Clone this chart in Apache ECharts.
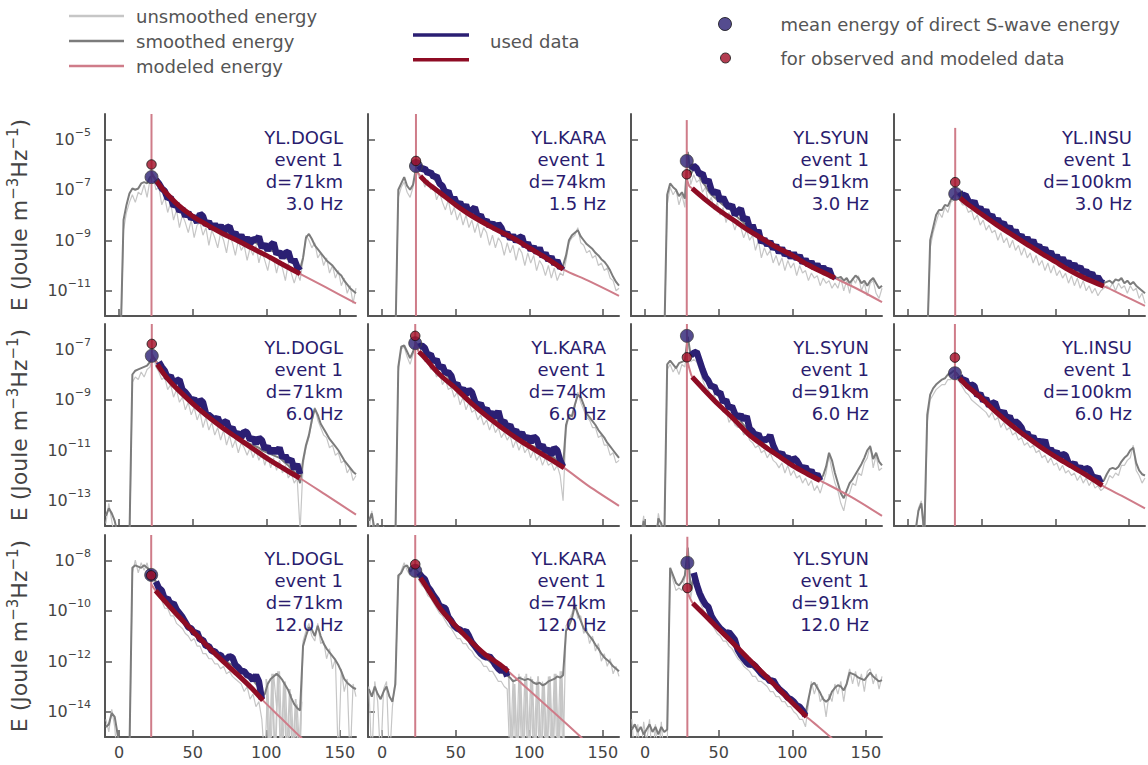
<!DOCTYPE html>
<html><head><meta charset="utf-8">
<script src="https://cdn.jsdelivr.net/npm/echarts@6/dist/echarts.min.js"></script>
<style>html,body{margin:0;padding:0;background:#fff}#c{width:1148px;height:765px}</style>
</head><body><div id="c"></div>
<script>
// ---------------- DATA (energies stored as log10 of Joule m^-3 Hz^-1) ----------------
// common lapse-time grid (s)
const T = [-9,-7,-5,-3,-1,1,3,5,7,9,11,13,15,17,19,21,23,25,27,29,31,33,35,37,39,41,43,45,47,49,
51,53,55,57,59,61,63,65,67,69,71,73,75,77,79,81,83,85,87,89,91,93,95,97,99,101,103,105,107,109,
111,113,115,117,119,121,123,125,127,129,131,133,135,137,139,141,143,145,147,149,151,153,155,157,159,161];

const stations = ['YL.DOGL','YL.KARA','YL.SYUN','YL.INSU','YL.DOGL','YL.KARA','YL.SYUN','YL.INSU','YL.DOGL','YL.KARA','YL.SYUN'];
const events = ['event 1','event 1','event 1','event 1','event 1','event 1','event 1','event 1','event 1','event 1','event 1'];
const distances = [71,74,91,100,71,74,91,100,71,74,91];
const freqs = ['3.0','1.5','3.0','3.0','6.0','6.0','6.0','6.0','12.0','12.0','12.0'];
const sTime = [22,23,28.3,32,22.2,22.5,28.4,31.8,21.8,22.5,28.7];
const obsMean = [-6.5,-6.06,-5.86,-7.16,-7.26,-6.76,-6.47,-7.95,-8.58,-8.42,-8.1];
const modMean = [-6.0,-5.86,-6.39,-6.7,-6.79,-6.47,-7.32,-7.33,-8.6,-8.16,-9.1];
const vLineTop = [-4,-4,-4.24,-4.55,-6,-6,-6,-6,-7,-7,-7.07];
const usedStart = [25,25,31,35,27,25,31,35,25,25,33];
const modelWindow = [[25,123],[26,123],[32,129],[35,133],[26,122.7],[25,123.7],[32,119],[35,132],[24.8,97.7],[26,85.7],[32.4,109.7]];
const rowRange = [[-12,-4],[-14,-6],[-15,-7]];
const yTickExp = [[-11,-9,-7,-5],[-13,-11,-9,-7],[-14,-12,-10,-8]];
const xTickVals = [0,50,100,150];

// smoothed energy
const sm1 = [-13,-13,-13,-13,-13,-13,-8.2,-7.6,-7.15,-6.95,
-7.0,-6.95,-6.75,-6.7,-6.75,-6.5,-6.45,-6.6,-6.8,-7.0,
-7.15,-7.3,-7.45,-7.6,-7.7,-7.8,-7.9,-7.95,-8.05,-8.1,
-8.2,-8.25,-8.2,-8.2,-8.35,-8.4,-8.45,-8.5,-8.5,-8.55,
-8.65,-8.7,-8.7,-8.75,-8.85,-8.9,-8.95,-9.0,-9.05,-9.1,
-9.1,-9.1,-9.2,-9.25,-9.3,-9.35,-9.4,-9.45,-9.55,-9.6,
-9.65,-9.7,-9.75,-9.85,-9.95,-10.05,-10.15,-9.7,-8.9,-8.75,
-8.95,-9.2,-9.35,-9.5,-9.65,-9.8,-9.9,-10.0,-10.15,-10.3,
-10.4,-10.6,-10.75,-10.9,-11.0,-11.1];
const sm2 = [-13,-13,-13,-13,-13,-13,-13,-13,-13,-13,
-7.0,-6.75,-6.5,-6.85,-7.0,-6.8,-6.15,-6.1,-6.2,-6.3,
-6.35,-6.45,-6.55,-6.7,-6.85,-6.95,-7.1,-7.25,-7.35,-7.45,
-7.55,-7.65,-7.7,-7.8,-7.9,-8.0,-8.05,-8.1,-8.2,-8.25,
-8.3,-8.4,-8.45,-8.5,-8.6,-8.7,-8.75,-8.85,-8.9,-8.95,
-9.0,-9.05,-9.1,-9.2,-9.25,-9.35,-9.4,-9.5,-9.55,-9.6,
-9.7,-9.75,-9.8,-9.9,-10.0,-10.05,-10.0,-9.6,-9.0,-8.8,
-8.7,-8.6,-8.85,-9.0,-9.15,-9.25,-9.35,-9.5,-9.6,-9.75,
-9.85,-10.0,-10.2,-10.45,-10.65,-10.8];
const sm3 = [-13,-13,-13,-13,-13,-13,-13,-13,-13,-13,
-13,-13,-7.2,-6.75,-6.9,-7.0,-7.25,-7.1,-7.35,-5.5,
-6.4,-6.15,-6.25,-6.5,-6.7,-6.85,-7.05,-7.2,-7.3,-7.4,
-7.5,-7.6,-7.7,-7.75,-7.85,-8.0,-8.1,-8.2,-8.3,-8.45,
-8.55,-8.65,-8.75,-8.9,-9.05,-9.15,-9.2,-9.3,-9.35,-9.4,
-9.45,-9.5,-9.55,-9.6,-9.65,-9.7,-9.75,-9.8,-9.85,-9.95,
-10.0,-10.05,-10.1,-10.15,-10.2,-10.25,-10.3,-10.35,-10.4,-10.45,
-10.5,-10.45,-10.6,-10.5,-10.7,-10.55,-10.4,-10.5,-10.7,-10.6,
-10.8,-10.6,-10.5,-10.7,-10.9,-10.8];
const sm4 = [-13,-13,-13,-13,-13,-13,-13,-13,-13,-13,
-13,-13,-9.0,-8.5,-8.0,-7.8,-7.8,-7.6,-7.65,-7.4,
-7.25,-7.15,-7.15,-7.3,-7.4,-7.5,-7.6,-7.7,-7.8,-7.85,
-7.95,-8.05,-8.15,-8.2,-8.3,-8.4,-8.45,-8.55,-8.65,-8.7,
-8.8,-8.85,-8.95,-9.0,-9.1,-9.15,-9.2,-9.3,-9.35,-9.45,
-9.5,-9.55,-9.65,-9.7,-9.8,-9.85,-9.9,-9.95,-10.0,-10.05,
-10.1,-10.15,-10.2,-10.25,-10.35,-10.4,-10.45,-10.5,-10.6,-10.65,
-10.7,-10.7,-10.65,-10.6,-10.7,-10.55,-10.6,-10.5,-10.7,-10.6,
-10.75,-10.65,-10.8,-10.9,-11.0,-11.1];
const sm5 = [-13.6,-13.3,-13.5,-13.8,-14.3,-14.5,-14.2,-14.6,-14.5,-8.0,
-7.85,-7.8,-7.75,-7.7,-7.65,-7.5,-7.3,-7.45,-7.65,-7.75,
-7.95,-8.1,-8.25,-8.35,-8.5,-8.6,-8.75,-8.85,-8.95,-9.1,
-9.2,-9.3,-9.4,-9.5,-9.6,-9.7,-9.8,-9.9,-9.95,-10.05,
-10.15,-10.25,-10.3,-10.4,-10.5,-10.55,-10.6,-10.65,-10.7,-10.75,
-10.8,-10.85,-10.9,-11.0,-11.05,-11.1,-11.15,-11.2,-11.25,-11.3,
-11.4,-11.5,-11.6,-11.75,-11.85,-11.95,-12.3,-11.4,-10.8,-10.4,
-9.8,-9.35,-9.6,-9.95,-10.15,-10.35,-10.55,-10.7,-10.85,-11.0,
-11.2,-11.4,-11.55,-11.7,-11.85,-11.95];
const sm6 = [-13.8,-13.5,-14.2,-13.9,-14.4,-14.1,-14.5,-14.3,-14.6,-14.5,
-7.7,-6.9,-6.85,-7.1,-7.35,-7.1,-6.75,-6.9,-7.0,-7.1,
-7.2,-7.35,-7.5,-7.6,-7.75,-7.85,-8.0,-8.1,-8.25,-8.4,
-8.5,-8.65,-8.75,-8.85,-8.95,-9.05,-9.15,-9.25,-9.35,-9.45,
-9.55,-9.6,-9.7,-9.8,-9.85,-9.95,-10.05,-10.1,-10.2,-10.3,
-10.35,-10.45,-10.5,-10.6,-10.7,-10.8,-10.85,-10.9,-10.95,-11.05,
-11.1,-11.15,-11.25,-11.3,-11.4,-11.5,-11.65,-10.0,-9.6,-9.65,
-9.2,-8.8,-8.9,-9.2,-9.55,-9.7,-9.85,-10.0,-10.2,-10.35,
-10.5,-10.7,-10.85,-11.0,-11.15,-11.3];
const sm7 = [-14.8,-14.6,-14.9,-14.7,-13.8,-14.4,-14.8,-14.6,-14.9,-13.7,
-13.9,-14.6,-7.6,-7.45,-7.6,-7.75,-7.55,-7.5,-7.45,-6.5,
-7.25,-7.2,-7.2,-7.5,-7.85,-8.05,-8.3,-8.45,-8.6,-8.8,
-8.95,-9.1,-9.2,-9.3,-9.45,-9.55,-9.7,-9.85,-10.0,-10.1,
-10.25,-10.35,-10.45,-10.55,-10.65,-10.75,-10.85,-10.95,-11.05,-11.15,
-11.25,-11.3,-11.4,-11.5,-11.55,-11.6,-11.7,-11.75,-11.8,-11.9,
-11.95,-12.0,-12.05,-12.1,-12.15,-12.0,-11.65,-11.1,-11.4,-11.9,
-12.3,-12.7,-12.9,-12.6,-12.3,-12.15,-11.95,-11.75,-11.55,-11.3,
-11.0,-10.85,-11.35,-11.1,-11.45,-11.6];
const sm8 = [-14.5,-14.3,-14.6,-14.4,-14.7,-14.3,-14.5,-14.2,-13.4,-13.1,
-14.3,-9.6,-8.8,-8.55,-8.4,-8.3,-8.2,-8.15,-8.0,-7.95,
-7.85,-7.95,-8.1,-8.25,-8.4,-8.55,-8.65,-8.75,-8.85,-8.95,
-9.05,-9.15,-9.25,-9.3,-9.4,-9.5,-9.6,-9.7,-9.8,-9.9,
-10.0,-10.1,-10.2,-10.3,-10.4,-10.5,-10.55,-10.65,-10.75,-10.85,
-10.9,-11.0,-11.05,-11.1,-11.2,-11.25,-11.35,-11.4,-11.5,-11.55,
-11.6,-11.65,-11.7,-11.75,-11.85,-11.9,-11.95,-12.0,-12.05,-12.15,
-12.25,-12.2,-11.95,-11.75,-11.7,-11.75,-11.65,-11.45,-11.3,-11.2,
-11.0,-10.9,-11.5,-11.8,-11.95,-12.0];
const sm9 = [-14.6,-14.5,-14.05,-14.2,-14.9,-15.5,-15.6,-15.5,-15.6,-8.3,
-8.2,-8.25,-8.3,-8.2,-8.3,-8.4,-8.6,-8.85,-9.1,-9.35,
-9.5,-9.65,-9.8,-9.95,-10.1,-10.25,-10.4,-10.55,-10.65,-10.75,
-10.85,-10.95,-11.1,-11.25,-11.4,-11.5,-11.6,-11.7,-11.75,-11.85,
-11.9,-12.0,-12.1,-12.15,-12.25,-12.3,-12.4,-12.5,-12.55,-12.65,
-12.75,-12.9,-13.05,-13.4,-13.3,-12.9,-12.7,-12.6,-12.5,-12.6,
-12.75,-12.95,-13.15,-13.45,-13.7,-13.85,-13.95,-11.4,-11.0,-10.65,
-10.75,-11.0,-10.6,-11.0,-11.3,-11.5,-11.65,-11.8,-11.95,-12.15,
-12.4,-12.7,-12.85,-12.95,-13.05,-13.1];
const sm10 = [-13.1,-13.4,-13.0,-13.3,-13.5,-13.2,-13.0,-13.4,-13.6,-12.9,
-8.6,-8.5,-8.25,-8.2,-8.45,-8.3,-8.35,-8.5,-8.7,-8.9,
-9.05,-9.25,-9.4,-9.6,-9.8,-9.95,-10.1,-10.3,-10.45,-10.6,
-10.75,-10.85,-10.95,-11.05,-11.15,-11.3,-11.45,-11.6,-11.7,-11.8,
-11.9,-12.0,-12.1,-12.2,-12.35,-12.45,-12.5,-12.55,-12.65,-12.8,
-12.75,-12.65,-12.7,-12.75,-12.7,-12.75,-12.85,-12.9,-12.85,-12.95,
-12.9,-12.8,-12.75,-12.7,-12.6,-12.65,-12.55,-10.8,-10.6,-10.3,
-9.8,-10.1,-10.4,-10.7,-10.85,-11.0,-11.15,-11.35,-11.5,-11.7,
-11.85,-11.95,-12.05,-12.2,-12.3,-12.4];
const sm11 = [-14.7,-14.5,-14.8,-14.6,-14.9,-14.7,-14.5,-14.8,-14.6,-14.9,
-14.6,-14.8,-14.7,-8.3,-8.6,-8.9,-9.0,-8.85,-8.6,-7.5,
-9.2,-8.6,-9.0,-9.35,-9.6,-9.8,-10.05,-10.25,-10.45,-10.6,
-10.75,-10.85,-10.95,-11.1,-11.3,-11.45,-11.6,-11.75,-11.9,-12.05,
-12.15,-12.25,-12.35,-12.45,-12.5,-12.6,-12.7,-12.8,-12.9,-13.0,
-13.1,-13.2,-13.3,-13.4,-13.5,-13.6,-13.7,-13.8,-13.95,-14.1,
-13.5,-12.95,-12.85,-13.05,-13.25,-13.5,-13.6,-13.5,-13.2,-13.05,
-12.95,-13.0,-13.15,-12.9,-12.45,-12.5,-12.55,-12.65,-12.7,-12.75,
-12.6,-12.45,-12.6,-12.7,-12.8,-12.75];

// unsmoothed energy
const us1 = [-13,-13,-13,-13,-13,-13,-8.6,-7.9,-7.5,-7.2,
-7.5,-7.1,-7.2,-6.8,-7.3,-6.6,-6.4,-7.0,-6.9,-7.6,
-7.3,-7.9,-7.5,-8.2,-7.8,-8.5,-8.0,-8.3,-8.7,-8.2,
-8.9,-8.4,-8.3,-8.8,-8.5,-9.2,-8.6,-8.9,-9.3,-8.7,
-9.0,-9.5,-8.8,-9.1,-9.6,-9.0,-9.4,-9.2,-9.8,-9.3,
-9.6,-9.2,-9.9,-9.4,-9.8,-10.2,-9.6,-9.7,-10.3,-9.8,
-10.1,-10.6,-9.9,-10.3,-10.7,-10.3,-10.6,-9.8,-8.8,-9.0,
-9.3,-9.1,-9.7,-9.5,-10.0,-9.7,-10.3,-10.0,-10.5,-10.2,
-10.8,-10.5,-11.1,-10.8,-11.5,-10.9];
const us2 = [-13,-13,-13,-13,-13,-13,-13,-13,-13,-13,
-7.3,-6.9,-6.7,-7.1,-7.3,-6.9,-6.2,-6.5,-6.4,-6.9,
-6.6,-7.0,-6.8,-7.4,-7.1,-7.5,-7.8,-7.4,-8.0,-7.7,
-8.2,-7.9,-8.4,-8.0,-8.5,-8.2,-8.7,-8.3,-8.9,-8.5,
-8.7,-9.2,-8.8,-9.3,-8.9,-9.1,-9.6,-9.1,-9.5,-9.2,
-9.8,-9.3,-9.5,-10.0,-9.5,-9.9,-9.6,-10.2,-9.8,-10.0,
-10.4,-10.0,-10.5,-10.1,-10.6,-10.3,-10.4,-9.8,-9.1,-8.9,
-8.8,-8.5,-9.1,-9.2,-9.5,-9.4,-9.7,-9.6,-10.0,-9.9,
-10.2,-10.1,-10.5,-10.6,-11.0,-10.9];
const us3 = [-13,-13,-13,-13,-13,-13,-13,-13,-13,-13,
-13,-13,-7.6,-6.9,-7.2,-7.0,-7.6,-7.2,-7.7,-5.6,
-6.8,-6.4,-6.7,-6.6,-7.1,-6.9,-7.5,-7.3,-7.8,-7.5,
-8.0,-7.7,-8.3,-7.9,-8.2,-8.6,-8.2,-8.5,-8.9,-8.6,
-9.0,-8.8,-9.4,-9.0,-9.7,-9.3,-9.6,-9.4,-9.9,-9.6,
-10.0,-9.7,-10.2,-9.8,-10.1,-9.9,-10.4,-10.0,-10.3,-10.2,
-10.6,-10.3,-10.5,-10.4,-10.8,-10.5,-10.7,-10.6,-10.9,-10.7,
-10.9,-10.5,-11.0,-10.6,-11.1,-10.5,-10.7,-10.4,-11.0,-10.7,
-11.2,-10.7,-10.6,-11.1,-11.3,-10.9];
const us4 = [-13,-13,-13,-13,-13,-13,-13,-13,-13,-13,
-13,-13,-9.3,-8.7,-8.3,-7.9,-8.1,-7.7,-7.9,-7.5,
-7.4,-7.2,-7.4,-7.6,-7.6,-7.9,-7.8,-8.2,-8.0,-8.4,
-8.2,-8.6,-8.4,-8.7,-8.6,-9.0,-8.7,-9.1,-8.9,-9.3,
-9.0,-9.4,-9.2,-9.6,-9.3,-9.7,-9.5,-9.9,-9.6,-10.0,
-9.8,-10.2,-9.9,-10.3,-10.0,-10.4,-10.2,-10.5,-10.3,-10.7,
-10.4,-10.8,-10.5,-10.9,-10.6,-11.0,-10.8,-11.1,-10.9,-11.2,
-11.0,-10.9,-10.8,-10.9,-10.7,-11.0,-10.7,-10.9,-10.8,-11.1,
-10.8,-11.0,-10.9,-11.3,-11.1,-11.5];
const us5 = [-13.9,-13.1,-13.8,-14.5,-14.1,-15,-14.3,-15,-15,-8.3,
-8.1,-8.2,-7.9,-8.1,-7.8,-7.7,-7.2,-7.7,-7.9,-8.2,
-8.1,-8.6,-8.4,-8.9,-8.6,-9.1,-8.9,-9.4,-9.1,-9.6,
-9.3,-9.8,-9.5,-10.1,-9.7,-10.2,-9.9,-10.4,-10.1,-10.6,
-10.2,-10.8,-10.4,-10.9,-10.6,-11.1,-10.7,-10.9,-11.2,-10.9,
-11.3,-11.0,-11.4,-11.1,-11.6,-11.2,-11.7,-11.3,-11.8,-11.4,
-11.9,-11.6,-12.1,-11.9,-12.3,-12.1,-14.2,-11.6,-10.9,-10.5,
-9.9,-9.3,-9.8,-10.1,-10.4,-10.5,-10.9,-10.8,-11.2,-11.1,
-11.5,-11.4,-11.9,-11.7,-12.2,-12.0];
const us6 = [-14.2,-13.4,-15,-14.1,-15,-14.0,-15,-14.6,-15,-14.8,
-7.9,-7.0,-6.9,-7.3,-7.6,-7.2,-6.7,-7.2,-7.1,-7.5,
-7.4,-7.8,-7.7,-8.1,-7.9,-8.4,-8.2,-8.6,-8.5,-8.9,
-8.7,-9.2,-8.9,-9.4,-9.1,-9.5,-9.4,-9.8,-9.6,-10.0,
-9.8,-10.2,-9.9,-10.3,-10.1,-10.5,-10.3,-10.6,-10.4,-10.9,
-10.6,-11.0,-10.7,-11.1,-10.9,-11.3,-11.0,-11.4,-11.2,-11.6,
-11.3,-11.6,-11.5,-11.8,-11.6,-12.0,-13.0,-10.2,-9.6,-9.8,
-9.3,-8.7,-9.1,-9.4,-9.7,-9.8,-10.1,-10.1,-10.5,-10.4,
-10.8,-10.8,-11.2,-11.1,-11.5,-11.4];
const us7 = [-15,-14.4,-15,-14.5,-13.6,-15,-14.6,-15,-14.7,-13.5,
-14.2,-15,-7.8,-7.6,-7.9,-7.7,-8.0,-7.6,-7.7,-6.6,
-7.5,-7.4,-7.5,-7.8,-8.2,-8.5,-8.6,-8.9,-8.8,-9.2,
-9.1,-9.5,-9.4,-9.9,-9.7,-10.0,-10.1,-10.0,-10.4,-10.2,
-10.6,-10.7,-10.9,-10.8,-11.1,-11.0,-11.3,-11.1,-11.4,-11.5,
-11.7,-11.5,-11.9,-11.6,-12.0,-11.8,-12.1,-12.0,-12.3,-12.1,
-12.4,-12.2,-12.6,-12.4,-12.7,-12.3,-11.9,-11.2,-11.8,-12.3,
-12.6,-13.1,-13.4,-12.8,-12.7,-12.3,-12.4,-11.9,-12.0,-11.5,
-11.3,-10.8,-11.7,-11.2,-11.8,-11.7];
const us8 = [-15,-14.6,-15,-14.8,-15,-14.5,-15,-14.4,-13.3,-13.0,
-15,-9.9,-9.0,-8.8,-8.6,-8.5,-8.4,-8.4,-8.2,-8.2,
-8.0,-8.2,-8.3,-8.5,-8.7,-8.8,-9.0,-9.1,-9.2,-9.3,
-9.4,-9.5,-9.7,-9.5,-9.8,-9.7,-10.1,-9.9,-10.2,-10.1,
-10.4,-10.3,-10.6,-10.5,-10.8,-10.7,-10.9,-10.8,-11.1,-11.0,
-11.3,-11.2,-11.5,-11.3,-11.6,-11.5,-11.8,-11.6,-11.9,-11.8,
-12.0,-11.9,-12.2,-12.0,-12.3,-12.1,-12.4,-12.2,-12.5,-12.4,
-12.6,-12.5,-12.3,-12.0,-12.1,-11.9,-12.0,-11.6,-11.6,-11.4,
-11.3,-10.8,-11.8,-12.0,-12.3,-12.1];
const us9 = [-14.3,-14.8,-13.9,-14.6,-16,-15.3,-16,-15.4,-16,-8.5,
-8.0,-8.5,-8.1,-8.4,-8.1,-8.6,-8.5,-9.1,-9.4,-9.6,
-9.9,-9.9,-10.2,-10.2,-10.5,-10.6,-10.7,-10.9,-11.0,-11.2,
-11.1,-11.4,-11.4,-11.7,-11.7,-11.9,-11.9,-12.1,-12.1,-12.3,
-12.2,-12.5,-12.4,-12.6,-12.7,-12.8,-12.9,-13.2,-13.0,-13.5,
-13.3,-13.8,-13.6,-14.3,-16,-12.8,-16,-12.5,-13.8,-12.4,
-16,-12.8,-16,-13.3,-16,-13.7,-16,-11.2,-10.8,-10.5,
-11.0,-11.2,-10.5,-11.3,-11.2,-11.9,-11.5,-12.3,-11.9,-16,
-12.3,-13.2,-12.7,-16,-12.9,-13.4];
const us10 = [-13.0,-16,-12.8,-13.6,-16,-13.1,-12.8,-16,-13.8,-12.7,
-8.8,-8.4,-8.1,-8.4,-8.6,-8.2,-8.5,-8.8,-9.0,-9.1,
-9.4,-9.5,-9.7,-9.9,-10.1,-10.2,-10.4,-10.6,-10.7,-10.9,
-11.1,-11.1,-11.3,-11.3,-11.5,-11.6,-11.8,-11.9,-12.0,-12.2,
-12.2,-12.4,-12.4,-12.6,-12.8,-12.8,-13.0,-13.1,-16,-12.7,
-16,-12.5,-16,-12.6,-16,-12.6,-16,-12.8,-16,-12.8,
-16,-12.6,-16,-12.5,-16,-12.4,-16,-10.6,-10.4,-10.1,
-9.7,-10.3,-10.2,-10.9,-10.7,-11.3,-11.0,-11.6,-11.3,-12.0,
-11.7,-12.2,-11.9,-12.5,-12.2,-12.6];
const us11 = [-14.3,-16,-14.5,-16,-14.4,-15.2,-14.3,-16,-14.5,-16,
-14.4,-16,-15.5,-8.4,-8.8,-9.2,-9.1,-9.2,-8.7,-7.6,
-9.5,-8.8,-9.3,-9.6,-9.9,-10.1,-10.3,-10.5,-10.7,-10.9,
-11.0,-11.2,-11.2,-11.4,-11.5,-11.7,-11.9,-12.0,-12.2,-12.3,
-12.4,-12.6,-12.6,-12.8,-12.8,-12.9,-13.0,-13.2,-13.2,-13.4,
-13.4,-13.6,-13.6,-13.8,-13.8,-14.0,-14.1,-14.3,-14.3,-14.6,
-13.7,-12.8,-13.3,-12.9,-13.6,-13.4,-14.2,-13.3,-13.6,-12.9,
-13.3,-12.8,-13.6,-12.8,-12.3,-12.9,-12.4,-13.0,-12.5,-13.2,
-12.4,-12.3,-12.9,-12.5,-13.1,-12.6];
// extra unsmoothed samples for dense noise bursts [time, log10 E]
const usBurst9 = [[100,-12.7],[102,-16],[104,-12.5],[106,-16],[108,-12.4],[110,-16],[112,-12.8],[114,-16],[116,-13.1],[118,-16],[120,-13.5],[122,-16],[124,-13.6]];
const usBurst10 = [[86,-12.5],[88,-16],[90,-12.9],[92,-16],[94,-12.6],[96,-16],[98,-12.5],[100,-16],[102,-12.7],[104,-16],[106,-12.6],[108,-16],[110,-12.9],[112,-16],[114,-12.6],[116,-16],[118,-12.5],[120,-16],[122,-12.4],[124,-16]];

// used (fitted) observed data, on T starting at usedStart
const ud1 = [-6.6,-6.75,-6.95,-7.05,-7.35,-7.3,-7.65,-7.55,-7.85,-7.75,-8.05,-7.9,-8.15,-8.05,-8.3,-7.95,-8.05,-8.4,-8.25,-8.55,
-8.35,-8.6,-8.4,-8.7,-8.5,-8.45,-8.8,-8.7,-8.95,-8.8,-9.05,-8.9,-9.15,-8.95,-9.0,-8.85,-9.3,-9.15,-9.4,-9.2,
-9.1,-9.55,-9.45,-9.7,-9.5,-9.45,-9.85,-9.75,-10.05,-10.2];
const ud2 = [-6.05,-6.2,-6.15,-6.35,-6.3,-6.5,-6.45,-6.75,-6.85,-7.15,-7.05,-7.4,-7.3,-7.6,-7.5,-7.75,-7.6,-7.95,-7.8,-7.7,
-8.1,-8.0,-8.3,-8.2,-8.45,-8.3,-8.55,-8.35,-8.5,-8.8,-8.7,-8.95,-8.8,-9.05,-8.9,-8.85,-9.25,-9.1,-9.4,-9.25,
-9.5,-9.3,-9.65,-9.5,-9.8,-9.65,-9.95,-9.8,-10.1,-10.0];
const ud3 = [-6.2,-6.05,-6.15,-6.4,-6.35,-6.7,-6.6,-7.0,-7.15,-7.05,-7.45,-7.3,-7.55,-7.7,-7.6,-8.0,-7.85,-7.75,-8.2,-8.1,
-8.5,-8.4,-8.75,-8.6,-9.1,-8.95,-9.2,-9.05,-9.35,-9.2,-9.5,-9.3,-9.6,-9.45,-9.7,-9.5,-9.75,-9.6,-9.9,-9.75,
-10.0,-9.85,-10.1,-9.95,-10.2,-10.05,-10.25,-10.15,-10.45,-10.4];
const ud4 = [-7.1,-7.25,-7.2,-7.45,-7.6,-7.45,-7.8,-7.7,-7.95,-7.8,-8.1,-8.0,-8.3,-8.15,-8.4,-8.3,-8.6,-8.45,-8.75,-8.6,
-8.9,-8.8,-9.05,-8.9,-9.15,-9.0,-9.3,-9.2,-9.45,-9.3,-9.6,-9.45,-9.75,-9.6,-9.85,-9.7,-9.95,-9.85,-10.05,-9.95,
-10.15,-10.05,-10.3,-10.2,-10.4,-10.3,-10.55,-10.45,-10.65,-10.7];
const ud5 = [-7.5,-7.7,-7.85,-8.15,-8.05,-8.35,-8.25,-8.2,-8.6,-8.7,-8.85,-9.05,-8.95,-9.25,-9.0,-9.1,-9.55,-9.6,-9.7,-9.8,
-9.7,-10.0,-9.9,-9.85,-10.2,-10.1,-10.4,-10.3,-10.5,-10.25,-10.3,-10.6,-10.5,-10.75,-10.5,-10.6,-10.95,-10.85,-11.1,-10.95,
-11.1,-10.9,-11.3,-11.2,-11.45,-11.35,-11.75,-11.55,-11.95];
const ud6 = [-6.9,-6.85,-6.95,-7.25,-7.2,-7.5,-7.4,-7.75,-7.65,-7.95,-7.9,-8.05,-8.45,-8.35,-8.65,-8.55,-8.8,-8.6,-8.7,-9.05,
-9.25,-9.15,-9.45,-9.35,-9.6,-9.5,-9.7,-9.45,-9.9,-9.85,-10.1,-10.0,-10.3,-10.2,-10.45,-10.3,-10.55,-10.45,-10.7,-10.45,
-10.55,-10.9,-10.8,-11.05,-10.95,-11.2,-10.9,-11.0,-11.4,-11.65];
const ud7 = [-7.25,-7.15,-7.1,-7.45,-7.8,-8.1,-8.25,-8.5,-8.45,-8.75,-8.7,-9.1,-9.0,-9.35,-9.25,-9.55,-9.7,-9.6,-9.8,-9.65,
-10.15,-10.25,-10.45,-10.35,-10.65,-10.55,-10.6,-10.4,-10.8,-11.05,-11.2,-11.1,-11.35,-11.25,-11.55,-11.3,-11.4,-11.6,-11.75,-11.65,
-11.9,-11.8,-12.05,-11.95,-12.2];
const ud8 = [-8.05,-8.25,-8.2,-8.5,-8.4,-8.45,-8.85,-8.75,-9.05,-8.95,-9.25,-9.15,-9.1,-9.45,-9.6,-9.45,-9.75,-9.65,-9.95,-9.85,
-9.95,-10.1,-10.4,-10.3,-10.55,-10.45,-10.7,-10.6,-10.75,-10.6,-11.05,-10.95,-11.15,-11.05,-11.3,-11.15,-11.2,-11.5,-11.6,-11.5,
-11.75,-11.65,-11.85,-11.7,-11.75,-12.0,-12.15,-12.05,-12.3];
const ud9 = [-8.85,-9.1,-9.2,-9.55,-9.5,-9.75,-9.7,-9.95,-10.1,-10.25,-10.45,-10.65,-10.7,-10.9,-10.85,-11.15,-11.15,-11.4,-11.4,-11.6,
-11.6,-11.75,-11.75,-11.95,-11.9,-11.8,-11.85,-12.15,-12.25,-12.4,-12.4,-12.55,-12.6,-12.75,-12.55,-12.8,-13.5];
const ud10 = [-8.5,-8.65,-8.75,-9.05,-9.2,-9.4,-9.55,-9.8,-9.85,-9.9,-10.25,-10.4,-10.6,-10.7,-10.75,-10.85,-10.8,-11.0,-11.25,-11.4,
-11.55,-11.7,-11.8,-11.85,-11.8,-11.95,-12.15,-12.3,-12.4,-12.25,-12.6];
const ud11 = [-8.5,-8.95,-9.3,-9.55,-9.75,-9.85,-10.2,-10.4,-10.55,-10.7,-10.8,-10.9,-10.85,-11.0,-11.15,-11.55,-11.75,-11.9,-12.05,-12.15,
-12.1,-12.2,-12.35,-12.5,-12.6,-12.65,-12.8,-12.75,-12.95,-13.1,-13.2,-13.3,-13.45,-13.5,-13.6,-13.75,-13.8,-13.95,-14.15];

// modeled energy [time, log10 E]
const md1 = [[22,-6.3],[25,-6.62],[30,-7.0],[40,-7.6],[50,-8.05],[60,-8.4],[70,-8.72],[80,-9.0],[90,-9.3],[100,-9.6],[110,-9.92],[123,-10.33],[140,-10.85],[161,-11.5]];
const md2 = [[23,-6.2],[26,-6.46],[30,-6.7],[40,-7.15],[50,-7.6],[60,-8.0],[75,-8.5],[90,-8.95],[100,-9.3],[110,-9.65],[123,-10.15],[140,-10.6],[161,-11.2]];
const md3 = [[28.3,-6.55],[30,-6.85],[32,-6.95],[40,-7.35],[50,-7.8],[60,-8.2],[70,-8.6],[80,-8.95],[90,-9.3],[100,-9.6],[110,-9.95],[120,-10.25],[129,-10.5],[145,-10.95],[161,-11.45]];
const md4 = [[32,-7.05],[35,-7.3],[40,-7.55],[50,-7.97],[60,-8.38],[70,-8.76],[80,-9.13],[90,-9.5],[100,-9.85],[110,-10.2],[120,-10.5],[133,-10.82],[145,-11.15],[161,-11.6]];
const md5 = [[22.2,-7.2],[26,-7.6],[30,-7.95],[35,-8.3],[40,-8.6],[50,-9.15],[60,-9.65],[70,-10.1],[80,-10.5],[90,-10.9],[100,-11.3],[110,-11.66],[122.7,-12.1],[140,-12.75],[161,-13.55]];
const md6 = [[22.5,-6.7],[25,-7.1],[30,-7.4],[35,-7.75],[40,-8.05],[50,-8.55],[60,-9.1],[70,-9.6],[80,-10.05],[90,-10.47],[100,-10.85],[110,-11.2],[123.7,-11.7],[140,-12.4],[161,-13.2]];
const md7 = [[28.4,-7.4],[30,-7.75],[32,-8.1],[40,-8.6],[50,-9.2],[60,-9.75],[70,-10.35],[80,-10.8],[90,-11.2],[100,-11.6],[110,-11.93],[119,-12.2],[140,-12.85],[161,-13.6]];
const md8 = [[31.8,-7.9],[35,-8.15],[40,-8.45],[50,-8.95],[60,-9.5],[70,-10.0],[80,-10.45],[90,-10.87],[100,-11.25],[110,-11.6],[120,-11.95],[132,-12.4],[145,-12.8],[161,-13.3]];
const md9 = [[21.8,-8.95],[24.8,-9.2],[30,-9.55],[40,-10.2],[50,-10.8],[60,-11.4],[70,-11.97],[80,-12.5],[90,-13.06],[97.7,-13.55],[110,-14.25],[125,-15.1]];
const md10 = [[22.5,-8.45],[26,-8.7],[30,-9.05],[40,-9.95],[50,-10.6],[60,-11.2],[70,-11.73],[80,-12.13],[85.7,-12.4],[100,-13.15],[120,-14.2],[136,-15.05]];
const md11 = [[28.7,-9.25],[32.4,-9.7],[40,-10.14],[50,-10.72],[60,-11.3],[70,-11.89],[80,-12.47],[90,-13.05],[100,-13.64],[109.7,-14.2],[118,-14.6],[127,-15.05]];

const SM = [sm1,sm2,sm3,sm4,sm5,sm6,sm7,sm8,sm9,sm10,sm11];
const US = [us1,us2,us3,us4,us5,us6,us7,us8,us9,us10,us11];
const USB = {8: usBurst9, 9: usBurst10};
const UD = [ud1,ud2,ud3,ud4,ud5,ud6,ud7,ud8,ud9,ud10,ud11];
const MD = [md1,md2,md3,md4,md5,md6,md7,md8,md9,md10,md11];
const rowOf = [0,0,0,0,1,1,1,1,2,2,2];
const colOf = [0,1,2,3,0,1,2,3,0,1,2];

// ---------------- STYLE / LAYOUT ----------------
const F = '"DejaVu Sans", sans-serif';
const AX = '#555555';
const C_UNS = '#c6c6c6', C_SM = '#7c7c7c', C_MOD = '#cf7c89', C_USED = '#2b1f73', C_USEDMOD = '#8e0c24', C_RED = '#a00c26', C_TXT = '#2a1c6e';
const colLeft = [105, 368, 631, 894], rowTop = [114, 324, 535], W = 251, H = 202;
const E = v => Math.pow(10, v);
const supr = e => (e < 0 ? '\u2212' : '') + Math.abs(e);

const grid = [], xAxis = [], yAxis = [], series = [], graphic = [];
for (let k = 0; k < 11; k++) {
  const r = rowOf[k], c = colOf[k];
  grid.push({left: colLeft[c], top: rowTop[r], width: W, height: H});
  xAxis.push({
    type: 'value', gridIndex: k, min: -9.6, max: 161,
    axisLine: {show: true, onZero: false, lineStyle: {color: AX, width: 2}},
    axisTick: {show: true, inside: true, length: 7, customValues: xTickVals, lineStyle: {color: AX, width: 1.5}},
    axisLabel: {show: r === 2, customValues: xTickVals, fontSize: 16, color: '#444', fontFamily: F, margin: 7},
    splitLine: {show: false}
  });
  yAxis.push({
    type: 'log', logBase: 10, gridIndex: k, min: E(rowRange[r][0]), max: E(rowRange[r][1]),
    axisLine: {show: true, onZero: false, lineStyle: {color: AX, width: 2}},
    axisTick: {show: true, inside: true, length: 7, customValues: yTickExp[r].map(E), lineStyle: {color: AX, width: 1.5}},
    axisLabel: {
      show: c === 0, customValues: yTickExp[r].map(E), margin: 14,
      formatter: v => '{b|10}{s|' + supr(Math.round(Math.log10(v))) + '}',
      rich: {b: {fontSize: 16, color: '#444', fontFamily: F}, s: {fontSize: 11, color: '#444', fontFamily: F, padding: [0, 0, 14, 0]}}
    },
    splitLine: {show: false},
    name: c === 0 ? '{n|E (Joule m}{s|\u22123}{n|Hz}{s|\u22121}{n|)}' : '',
    nameLocation: 'middle', nameRotate: 90, nameGap: 71,
    nameTextStyle: {rich: {n: {fontSize: 22, color: '#444', fontFamily: F}, s: {fontSize: 15, color: '#444', fontFamily: F, padding: [0, 0, 14, 0]}}}
  });
  const ax = {xAxisIndex: k, yAxisIndex: k, symbol: 'none', showSymbol: false, silent: true, animation: false};
  series.push(Object.assign({type: 'line', name: 'unsmoothed energy', data: T.map((t, i) => [t, E(US[k][i])]),
    lineStyle: {color: C_UNS, width: 1.2}, itemStyle: {color: C_UNS}, z: 1}, ax));
  if (USB[k]) {
    series.push(Object.assign({type: 'line', name: 'unsmoothed energy', data: USB[k].map(p => [p[0], E(p[1])]),
      lineStyle: {color: C_UNS, width: 1.8}, itemStyle: {color: C_UNS}, z: 1}, ax));
  }
  series.push(Object.assign({type: 'line', name: 'smoothed energy', data: T.map((t, i) => [t, E(SM[k][i])]),
    lineStyle: {color: C_SM, width: 2}, itemStyle: {color: C_SM}, z: 2}, ax));
  series.push(Object.assign({type: 'line', name: 'modeled energy', data: [[sTime[k], E(rowRange[r][0])], [sTime[k], E(vLineTop[k])]],
    lineStyle: {color: C_MOD, width: 2}, itemStyle: {color: C_MOD}, z: 3}, ax));
  series.push(Object.assign({type: 'line', name: 'modeled energy', smooth: 0.3, data: MD[k].map(p => [p[0], E(p[1])]),
    lineStyle: {color: C_MOD, width: 2}, itemStyle: {color: C_MOD}, z: 3}, ax));
  const i0 = T.indexOf(usedStart[k]);
  series.push(Object.assign({type: 'line', name: 'used data', data: UD[k].map((v, i) => [T[i0 + i], E(v)]),
    lineStyle: {color: C_USED, width: 6.5, join: 'bevel'}, itemStyle: {color: C_USED}, z: 4}, ax));
  const w = modelWindow[k];
  series.push(Object.assign({type: 'line', name: 'used model', smooth: 0.3,
    data: MD[k].filter(p => p[0] >= w[0] - 1e-9 && p[0] <= w[1] + 1e-9).map(p => [p[0], E(p[1])]),
    lineStyle: {color: C_USEDMOD, width: 5}, itemStyle: {color: C_USEDMOD}, z: 5}, ax));
  series.push({type: 'scatter', name: 'mean energy of direct S-wave energy', xAxisIndex: k, yAxisIndex: k, silent: true, animation: false,
    data: [[sTime[k], E(obsMean[k])]], symbolSize: 13, itemStyle: {color: C_USED, borderColor: '#444', borderWidth: 1}, z: 6});
  series.push({type: 'scatter', name: 'for observed and modeled data', xAxisIndex: k, yAxisIndex: k, silent: true, animation: false,
    data: [[sTime[k], E(modMean[k])]], symbolSize: 9.5, itemStyle: {color: C_RED, borderColor: '#111', borderWidth: 1}, z: 7});
  graphic.push({type: 'text', x: colLeft[c] + W - 13, y: rowTop[r] + 12, silent: true, z: 10,
    style: {text: stations[k] + '\n' + events[k] + '\nd=' + distances[k] + 'km\n' + freqs[k] + ' Hz',
      textAlign: 'right', textVerticalAlign: 'top', fill: C_TXT, font: '18px ' + F, lineHeight: 22}});
}

const legTxt = {fontSize: 18, color: '#555', fontFamily: F, lineHeight: 20};
const legend = [
  {data: ['unsmoothed energy', 'smoothed energy', 'modeled energy'], orient: 'vertical', left: 69, top: 6, padding: 0,
   itemWidth: 55, itemHeight: 2.5, itemGap: 5, icon: 'rect', selectedMode: false, textStyle: Object.assign({padding: [0, 0, 0, 7]}, legTxt)},
  {data: ['used data'], left: 413, top: 23, padding: 0, itemWidth: 56, itemHeight: 3.5, icon: 'rect', selectedMode: false,
   formatter: n => '{e| }\n{a|' + n + '}',
   textStyle: Object.assign({}, legTxt, {padding: [0, 0, 0, 16], lineHeight: undefined,
     rich: {e: {fontSize: 4, lineHeight: 12}, a: {fontSize: 18, color: '#555', fontFamily: F, lineHeight: 20}}})},
  {data: ['used model'], left: 413, top: 58, padding: 0, itemWidth: 56, itemHeight: 3.5, icon: 'rect', selectedMode: false,
   formatter: () => '', textStyle: Object.assign({}, legTxt, {lineHeight: 1, fontSize: 1})},
  {data: [{name: 'mean energy of direct S-wave energy', itemStyle: {color: C_USED, borderColor: '#111', borderWidth: 1}}],
   left: 718, top: 14, padding: 0, itemWidth: 13, itemHeight: 13, icon: 'circle', selectedMode: false,
   textStyle: Object.assign({padding: [0, 0, 0, 44]}, legTxt)},
  {data: [{name: 'for observed and modeled data', itemStyle: {color: C_RED, borderColor: '#111', borderWidth: 1}}],
   left: 720, top: 48, padding: 0, itemWidth: 10, itemHeight: 10, icon: 'circle', selectedMode: false,
   textStyle: Object.assign({padding: [0, 0, 0, 45]}, legTxt)}
];

const chart = echarts.init(document.getElementById('c'), null, {renderer: 'svg', width: 1148, height: 765});
chart.setOption({animation: false, backgroundColor: '#ffffff', tooltip: {show: false},
  grid, xAxis, yAxis, series, legend, graphic: {elements: graphic}});
</script></body></html>
